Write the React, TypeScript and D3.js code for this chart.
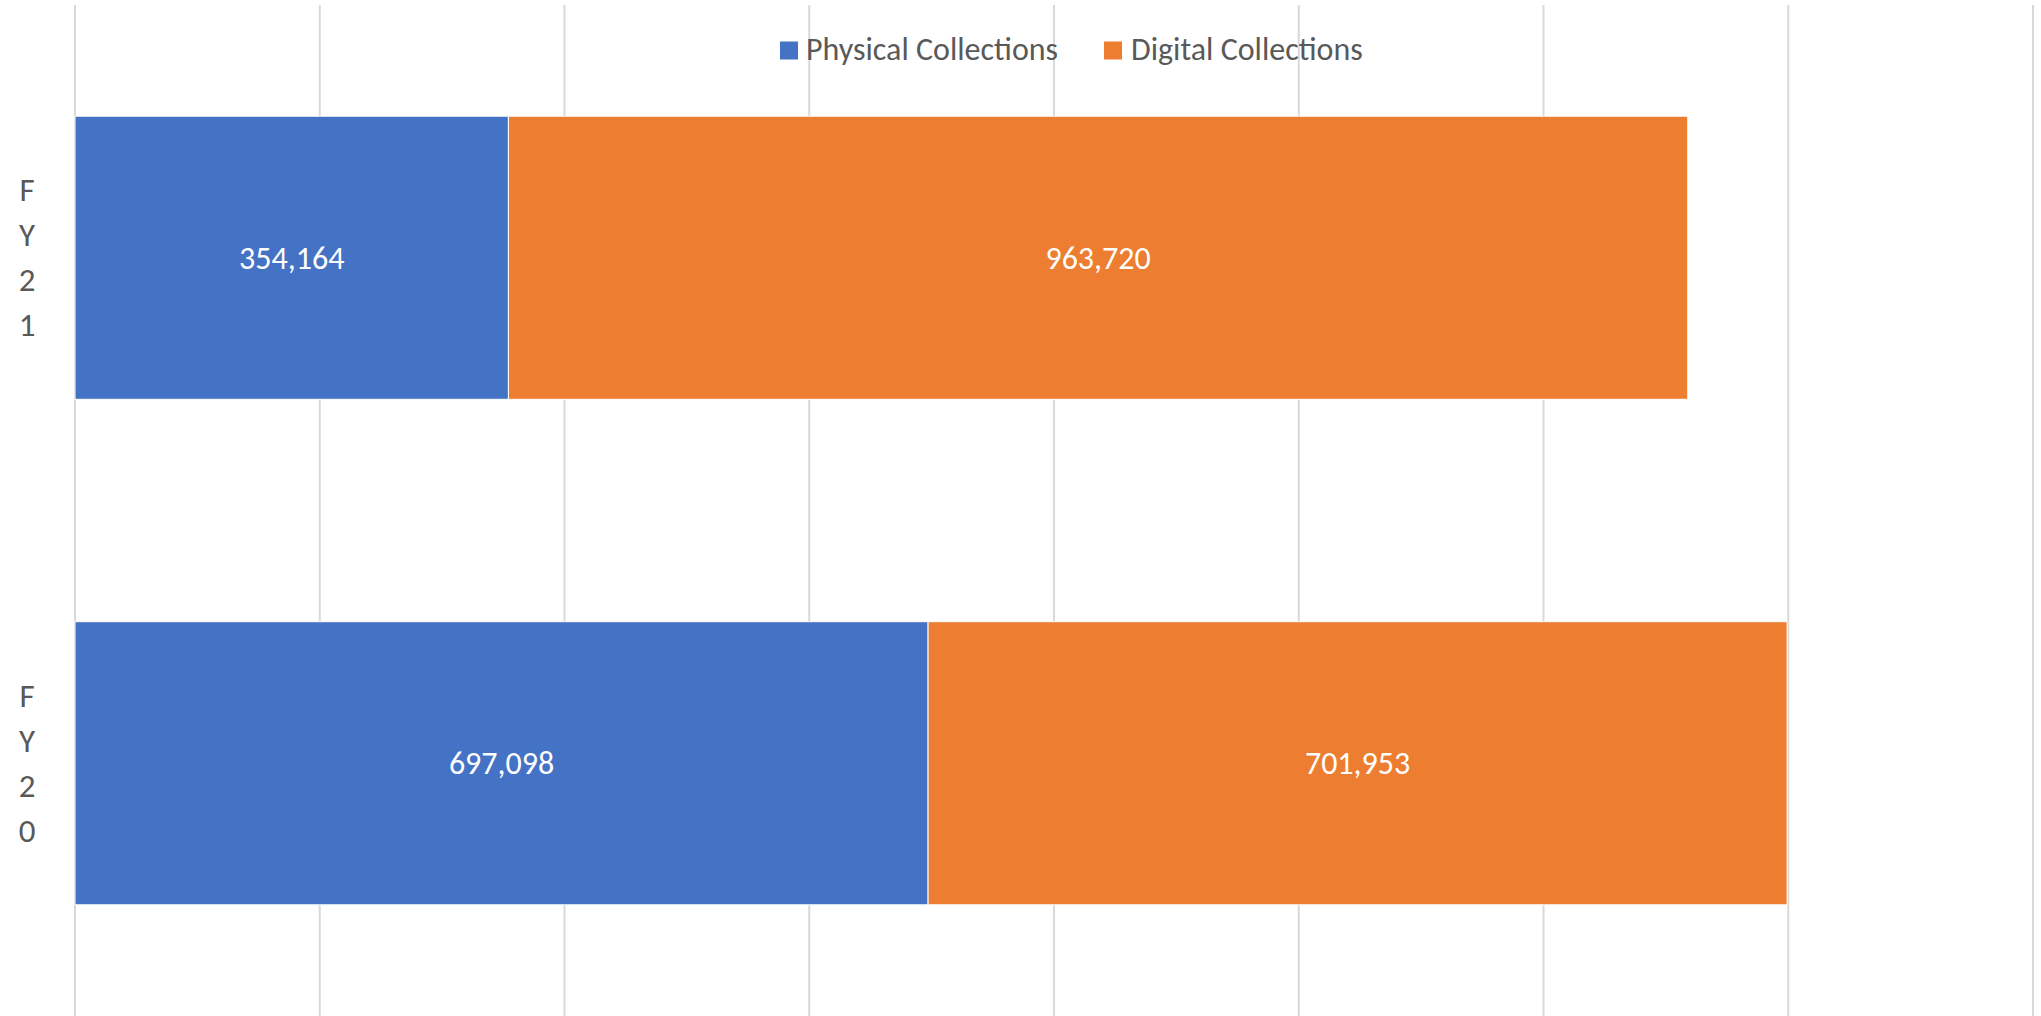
import React, { useEffect, useRef } from 'react';
import * as d3 from 'd3';

// values
const categories = ['FY21', 'FY20'];
const physical = [354164, 697098];
const digital = [963720, 701953];
const seriesNames = ['Physical Collections', 'Digital Collections'];
const seriesColors = ['#4472c4', '#ed7d31'];
const xTicks = [0, 200000, 400000, 600000, 800000, 1000000, 1200000, 1400000, 1600000];

const W = 2041;
const H = 1016;
const FONT = "Calibri, Carlito, 'Open Sans', sans-serif";

const App = () => {
  const svgRef = useRef<SVGSVGElement>(null);

  useEffect(() => {
    document.body.style.margin = '0';
    const svg = d3.select(svgRef.current);
    svg.selectAll('*').remove();

    const x = d3.scaleLinear().domain([0, 1600000]).range([75, 2033]);
    const y = d3.scaleBand().domain(categories).range([5, H]).padding(0);
    const barH = y.bandwidth() * 0.56;

    // gridlines
    svg.append('g')
      .selectAll('line')
      .data(xTicks)
      .enter()
      .append('line')
      .attr('x1', d => x(d))
      .attr('x2', d => x(d))
      .attr('y1', 5)
      .attr('y2', H)
      .attr('stroke', '#d9d9d9')
      .attr('stroke-width', 2);

    const rows = categories.map((c, i) => ({ cat: c, vals: [physical[i], digital[i]] }));

    rows.forEach(row => {
      const cy = (y(row.cat) as number) + y.bandwidth() / 2;
      let start = 0;
      row.vals.forEach((v, si) => {
        const x0 = x(start);
        const x1 = x(start + v);
        svg.append('rect')
          .attr('x', x0)
          .attr('y', cy - barH / 2)
          .attr('width', x1 - x0)
          .attr('height', barH)
          .attr('fill', seriesColors[si])
          .attr('stroke', '#ffffff')
          .attr('stroke-width', 1);
        svg.append('text')
          .attr('x', (x0 + x1) / 2)
          .attr('y', cy + 11)
          .attr('text-anchor', 'middle')
          .style('font-family', FONT)
          .style('font-size', '32px')
          .style('fill', '#ffffff')
          .text(d3.format(',')(v));
        start += v;
      });

      // category label, stacked letters
      const letters = row.cat.split('');
      const lineGap = 45;
      const firstBase = cy + 11 - (lineGap * (letters.length - 1)) / 2;
      letters.forEach((ch, k) => {
        svg.append('text')
          .attr('x', 27)
          .attr('y', firstBase + k * lineGap)
          .attr('text-anchor', 'middle')
          .style('font-family', FONT)
          .style('font-size', '33px')
          .style('fill', '#595959')
          .text(ch);
      });
    });

    // legend
    const legendItems = [
      { name: seriesNames[0], color: seriesColors[0], sx: 780, tx: 806 },
      { name: seriesNames[1], color: seriesColors[1], sx: 1104, tx: 1131 },
    ];
    const lg = svg.append('g');
    legendItems.forEach(it => {
      lg.append('rect')
        .attr('x', it.sx)
        .attr('y', 41.5)
        .attr('width', 18)
        .attr('height', 18)
        .attr('fill', it.color);
      lg.append('text')
        .attr('x', it.tx)
        .attr('y', 59.5)
        .style('font-family', FONT)
        .style('font-size', '32px')
        .style('fill', '#595959')
        .text(it.name);
    });
  }, []);

  return <svg ref={svgRef} width={W} height={H} style={{ display: 'block', background: '#ffffff' }}></svg>;
};

export default App;
